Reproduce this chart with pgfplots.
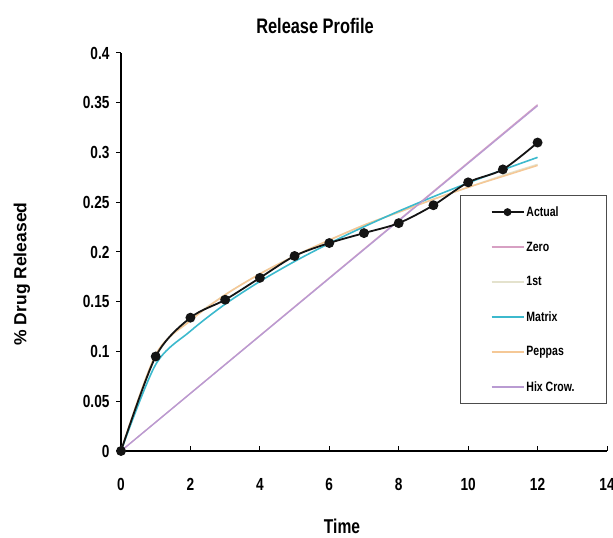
\documentclass[border=0pt]{standalone}
\usepackage{fontspec}
\setmainfont{Liberation Sans}[FakeStretch=0.78]
\newfontfamily\widefont{Liberation Sans}
\usepackage{pgfplots}
\pgfplotsset{compat=1.18}

\definecolor{actualc}{RGB}{20,20,20}
\definecolor{zeroc}{RGB}{215,160,195}
\definecolor{firstc}{RGB}{228,226,205}
\definecolor{matrixc}{RGB}{60,185,205}
\definecolor{peppasc}{RGB}{245,200,150}
\definecolor{hixc}{RGB}{185,155,210}

\begin{document}
\begin{tikzpicture}[x=1pt,y=1pt]
\path[use as bounding box] (0,0) rectangle (613,538);
\begin{axis}[
  at={(121pt,87pt)}, anchor=south west,
  scale only axis, width=486pt, height=398pt,
  xmin=0, xmax=14, ymin=0, ymax=0.4,
  xtick={0,2,...,14},
  ytick={0,0.05,...,0.4},
  axis x line*=bottom, axis y line*=left,
  x axis line style={-, line width=1.4pt},
  y axis line style={-, line width=1.4pt},
  xtick align=inside, ytick align=outside,
  major tick length=5pt,
  tick style={line width=1pt, black},
  /pgf/number format/assume math mode=true,
  yticklabel style={/pgf/number format/fixed, /pgf/number format/precision=2, xshift=-3pt},
  xticklabel style={yshift=-24pt},
  tick label style={font=\bfseries\fontsize{17.5}{18}\selectfont},
  clip=false,
  legend style={at={(1.0,0.643)}, anchor=north east,
    draw=black!70, line width=0.8pt, fill=white,
    font=\bfseries\fontsize{13.5}{14}\selectfont,
    row sep=20pt, inner xsep=30pt, inner ysep=9pt},
  legend cell align=left,
  legend image code/.code={\draw[mark repeat=2, mark phase=2, #1]
    plot coordinates {(0pt,0pt) (16pt,0pt) (32pt,0pt)};},
]
% legend entries, in the order they are listed
\addlegendimage{actualc, line width=1.8pt, mark=*, mark size=3pt, mark options={fill=actualc}}
\addlegendentry{Actual}
\addlegendimage{zeroc, line width=1.4pt}
\addlegendentry{Zero}
\addlegendimage{firstc, line width=1.6pt}
\addlegendentry{1st}
\addlegendimage{matrixc, line width=1.6pt}
\addlegendentry{Matrix}
\addlegendimage{peppasc, line width=1.5pt}
\addlegendentry{Peppas}
\addlegendimage{hixc, line width=1.4pt}
\addlegendentry{Hix Crow.}

% zero order
\addplot[zeroc, line width=1.3pt, forget plot] coordinates {
 (0,0) (12,0.348)};
% first order
\addplot[firstc, line width=1.6pt, smooth, forget plot] coordinates {
 (0,0) (1,0.096) (2,0.132) (3,0.157) (4,0.178) (5,0.196) (6,0.212)
 (7,0.227) (8,0.240) (9,0.253) (10,0.265) (11,0.277) (12,0.288)};
% Peppas
\addplot[peppasc, line width=1.5pt, smooth, forget plot] coordinates {
 (0,0) (1,0.097) (2,0.131) (3,0.157) (4,0.178) (5,0.196) (6,0.212)
 (7,0.227) (8,0.240) (9,0.253) (10,0.265) (11,0.276) (12,0.287)};
% Higuchi matrix
\addplot[matrixc, line width=1.6pt, smooth, forget plot] coordinates {
 (0,0) (1,0.087) (2,0.1205) (3,0.1476) (4,0.1704) (5,0.1905) (6,0.2087)
 (7,0.2254) (8,0.241) (9,0.2556) (10,0.2694) (11,0.2826) (12,0.2951)};
% Hixson-Crowell
\addplot[hixc, line width=1.3pt, forget plot] coordinates {
 (0,0) (12,0.347)};
% measured release
\addplot[actualc, line width=1.8pt, smooth, mark=*, mark size=4pt,
  mark options={fill=actualc}, forget plot] coordinates {
 (0,0) (1,0.095) (2,0.134) (3,0.152) (4,0.174) (5,0.196) (6,0.209)
 (7,0.219) (8,0.229) (9,0.247) (10,0.270) (11,0.283) (12,0.310)};
\end{axis}
\node[font=\bfseries\fontsize{21}{22}\selectfont] at (315,512) {Release Profile};
\node[font=\bfseries\fontsize{20}{21}\selectfont] at (342,12) {Time};
\node[font=\widefont\bfseries\fontsize{17.5}{18}\selectfont, rotate=90] at (22,264) {\% Drug Released};
\end{tikzpicture}
\end{document}
